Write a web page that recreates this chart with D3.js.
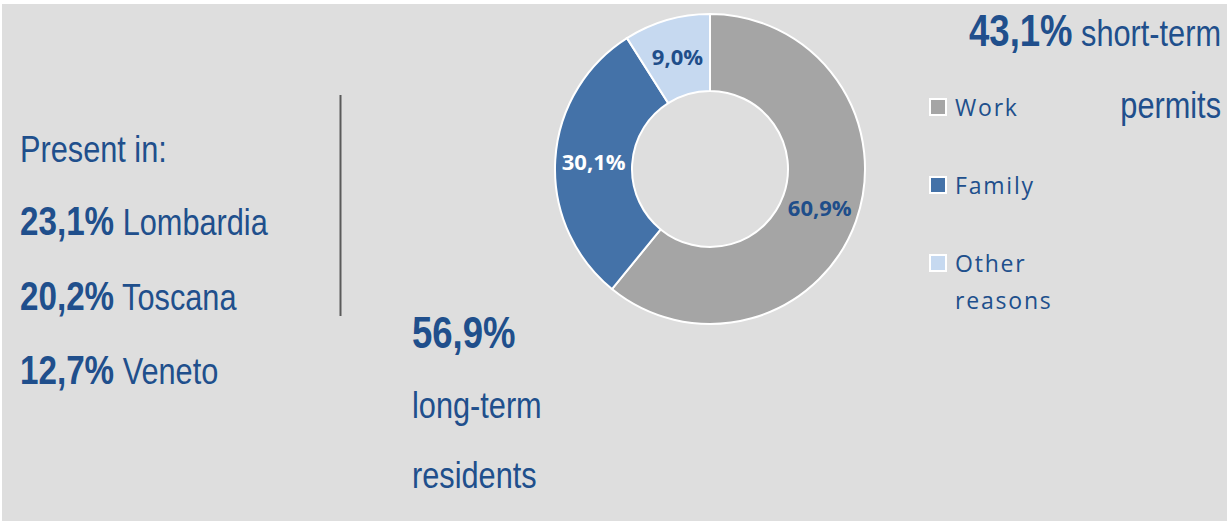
<!DOCTYPE html>
<html>
<head>
<meta charset="utf-8">
<script src="https://cdn.jsdelivr.net/npm/d3@7"></script>
<style>
html,body{margin:0;padding:0;background:#ffffff;}
svg{display:block;}
</style>
</head>
<body>
<svg id="chart" width="1227" height="521"></svg>
<script>
// ---- data ----
const categories = ["Work", "Family", "Other reasons"];
const values = [60.9, 30.1, 9.0];
const valueLabels = ["60,9%", "30,1%", "9,0%"];
const colors = ["#a5a5a5", "#4472a8", "#c6d9f0"];
const labelColors = ["#1f4e8a", "#ffffff", "#1f4e8a"];
const legendLines = [["Work"], ["Family"], ["Other", "reasons"]];
const regionPct = ["23,1%", "20,2%", "12,7%"];
const regionNames = ["Lombardia", "Toscana", "Veneto"];
const longTerm = "56,9%";
const shortTerm = "43,1%";

const textBlue = "#204f8c";
const svg = d3.select("#chart");

svg.append("rect").attr("x", 2).attr("y", 4).attr("width", 1225).attr("height", 517).attr("fill", "#dedede");

const narrow = "'Liberation Sans', Arial, sans-serif";
const calib = "'Open Sans', 'Noto Sans', sans-serif";
const SX = 0.83;

// narrow text helper: Liberation Sans condensed horizontally
function ntext(x, y, size, anchor) {
  return svg.append("text")
    .attr("transform", `translate(${x},${y}) scale(${SX},1)`)
    .attr("x", 0).attr("y", 0)
    .attr("text-anchor", anchor || "start")
    .attr("font-family", narrow).attr("font-size", size).attr("fill", textBlue);
}

// left block
ntext(20, 162, 37).text("Present in:");
const rowY = [235, 310, 384];
regionPct.forEach((p, i) => {
  const t = ntext(20, rowY[i], 37);
  t.append("tspan").attr("font-weight", "bold").attr("font-size", 40).text(p);
  t.append("tspan").text(" " + regionNames[i]);
});

svg.append("line").attr("x1", 340.5).attr("x2", 340.5).attr("y1", 95).attr("y2", 316)
  .attr("stroke", "#5a5a5a").attr("stroke-width", 2);

// long-term
ntext(412, 348, 44).attr("font-weight", "bold").text(longTerm);
ntext(412, 418, 37).text("long-term");
ntext(412, 488, 37).text("residents");

// short-term
const st = ntext(1221, 46, 37, "end");
st.append("tspan").attr("font-weight", "bold").attr("font-size", 44).text(shortTerm);
st.append("tspan").text(" short-term");
ntext(1221, 118, 37, "end").text("permits");

// donut
const cx = 710, cy = 169, rOuter = 155, rInner = 78;
const pie = d3.pie().sort(null).value(d => d)(values);
const arc = d3.arc().innerRadius(rInner).outerRadius(rOuter);
const g = svg.append("g").attr("transform", `translate(${cx},${cy})`);
g.selectAll("path").data(pie).join("path")
  .attr("d", arc).attr("fill", (d, i) => colors[i])
  .attr("stroke", "#ffffff").attr("stroke-width", 2);
g.selectAll("text").data(pie).join("text")
  .attr("transform", d => `translate(${arc.centroid(d)})`)
  .attr("text-anchor", "middle").attr("dy", "0.36em")
  .attr("font-family", calib).attr("font-weight", "bold").attr("font-size", 22)
  .attr("fill", (d, i) => labelColors[i])
  .text((d, i) => valueLabels[i]);

// legend
const legY = [108, 186, 264];
categories.forEach((c, i) => {
  svg.append("rect").attr("x", 930).attr("y", legY[i] - 9).attr("width", 16).attr("height", 16)
    .attr("fill", colors[i]).attr("stroke", "#ffffff").attr("stroke-width", 2);
  const t = svg.append("text").attr("x", 955).attr("y", legY[i] + 8)
    .attr("font-family", calib).attr("font-size", 23).attr("fill", textBlue).attr("letter-spacing", 1.8);
  legendLines[i].forEach((l, j) => {
    t.append("tspan").attr("x", 955).attr("dy", j === 0 ? 0 : 37).text(l);
  });
});
</script>
</body>
</html>
